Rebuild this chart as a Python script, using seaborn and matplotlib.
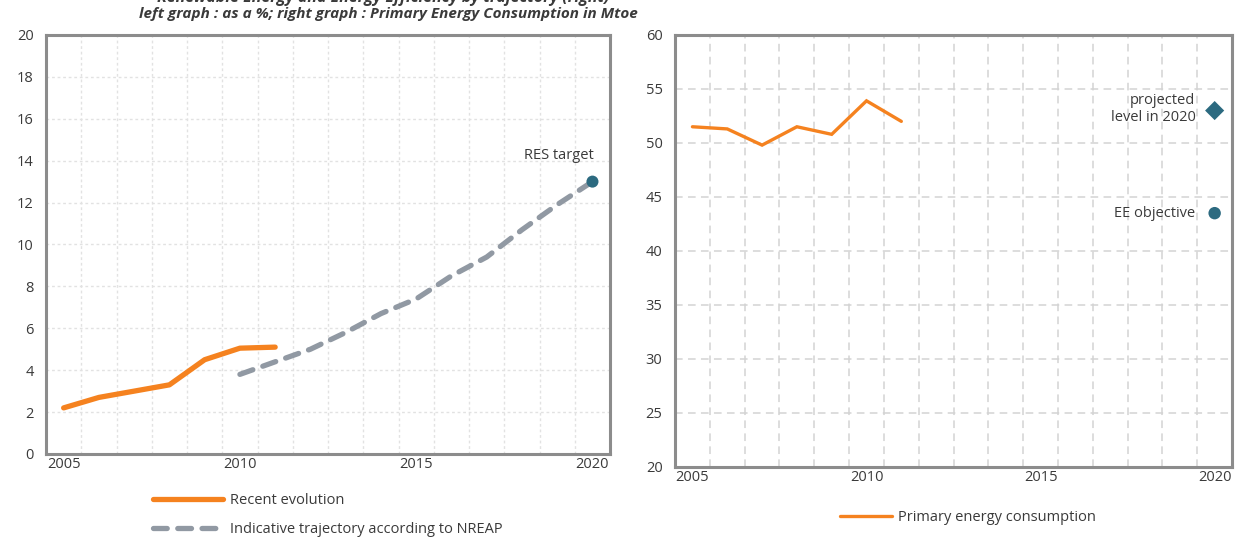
import matplotlib
matplotlib.use("Agg")
import matplotlib.pyplot as plt
import seaborn as sns
import numpy as np
import pandas as pd

# data
years_recent = [2005, 2006, 2007, 2008, 2009, 2010, 2011]
res_share = [2.2, 2.7, 3.0, 3.3, 4.5, 5.05, 5.1]

years_nreap = [2010, 2011, 2012, 2013, 2014, 2015, 2016, 2017, 2018, 2019, 2020]
nreap_traj = [3.8, 4.4, 5.0, 5.8, 6.7, 7.4, 8.5, 9.4, 10.7, 11.9, 13.0]

res_target_year = 2020
res_target = 13.0

pec_years = [2005, 2006, 2007, 2008, 2009, 2010, 2011]
pec_values = [51.5, 51.3, 49.8, 51.5, 50.8, 53.9, 52.0]

proj_2020 = 53.0
ee_objective = 43.5

year_labels = [2005, 2010, 2015, 2020]

orange = "#F5821F"
grey_dash = "#9199A3"
teal = "#2C6A80"
spine_col = "#8C8C8C"
text_col = "#3A3A3A"

sns.set_style("white")
plt.rcParams["font.family"] = ["Open Sans", "DejaVu Sans"]
plt.rcParams["text.color"] = text_col
plt.rcParams["xtick.color"] = text_col
plt.rcParams["ytick.color"] = text_col
fs = 10.5

fig = plt.figure(figsize=(12.37, 5.37), dpi=100)
ax1 = fig.add_axes([0.0372, 0.1546, 0.456, 0.7803])
ax2 = fig.add_axes([0.5457, 0.1304, 0.4503, 0.8045])


def style_axis(ax, grid_style):
    ax.set_xlim(2004.5, 2020.5)
    ax.set_xticks(year_labels)
    ax.set_xticks(np.arange(2004.5, 2021, 1.0), minor=True)
    ax.tick_params(axis="x", which="major", length=0, labelsize=fs, pad=2)
    ax.tick_params(axis="x", which="minor", length=6, width=2, color=spine_col, direction="out")
    ax.tick_params(axis="y", which="major", length=5, width=1.5, color=spine_col, labelsize=fs, pad=4)
    ax.grid(False)
    ax.grid(True, which="minor", axis="x", **grid_style)
    ax.grid(True, which="major", axis="y", **grid_style)
    for s in ax.spines.values():
        s.set_visible(True)
        s.set_color(spine_col)
        s.set_linewidth(2.2)


# left chart: RES share
sns.lineplot(x=years_recent, y=res_share, ax=ax1, color=orange, linewidth=3.8,
             solid_capstyle="round", solid_joinstyle="round", label="Recent evolution")
sns.lineplot(x=years_nreap, y=nreap_traj, ax=ax1, color=grey_dash, linewidth=3.8,
             linestyle=(0, (2.6, 2.0)), dash_capstyle="round",
             label="Indicative trajectory according to NREAP")
sns.scatterplot(x=[res_target_year], y=[res_target], ax=ax1, color=teal, s=75,
                edgecolor="none", zorder=5)
ax1.text(2020.05, 13.9, "RES target", ha="right", va="bottom", fontsize=fs)
ax1.set_ylim(0, 20)
ax1.set_yticks(np.arange(0, 21, 2))
style_axis(ax1, dict(color="#E2E2E2", linestyle=(0, (2, 2)), linewidth=1.0))
ax1.legend(loc="upper left", bbox_to_anchor=(0.167, -0.062), frameon=False, fontsize=fs,
           handlelength=4.8, labelspacing=0.95, handletextpad=0.45)

# right chart: primary energy consumption
sns.lineplot(x=pec_years, y=pec_values, ax=ax2, color=orange, linewidth=2.4,
             solid_joinstyle="miter", label="Primary energy consumption")
sns.scatterplot(x=[2020], y=[proj_2020], ax=ax2, color=teal, marker="D", s=95,
                edgecolor="none", zorder=5)
sns.scatterplot(x=[2020], y=[ee_objective], ax=ax2, color=teal, marker="o", s=80,
                edgecolor="none", zorder=5)
ax2.text(2019.45, proj_2020 + 0.15, "projected\nlevel in 2020", ha="right", va="center",
         fontsize=fs, multialignment="right", linespacing=1.15)
ax2.text(2019.45, ee_objective, "EE objective", ha="right", va="center", fontsize=fs)
ax2.set_ylim(20, 60)
ax2.set_yticks(np.arange(20, 61, 5))
style_axis(ax2, dict(color="#D3D3D3", linestyle=(0, (5, 3.5)), linewidth=1.1))
ax2.legend(loc="upper center", bbox_to_anchor=(0.526, -0.07), frameon=False, fontsize=fs,
           handlelength=3.6, handletextpad=0.4)

# titles (first line cut off at the top edge as in the source)
fig.text(0.31, 0.997, "Renewable Energy and Energy Efficiency by trajectory (right)",
         ha="center", va="baseline", fontsize=11.5, fontweight="bold", fontstyle="italic")
fig.text(0.314, 0.973, "left graph : as a %; right graph : Primary Energy Consumption in Mtoe",
         ha="center", va="center", fontsize=11, fontweight="bold", fontstyle="italic")

fig.savefig("out.png", dpi=100)
